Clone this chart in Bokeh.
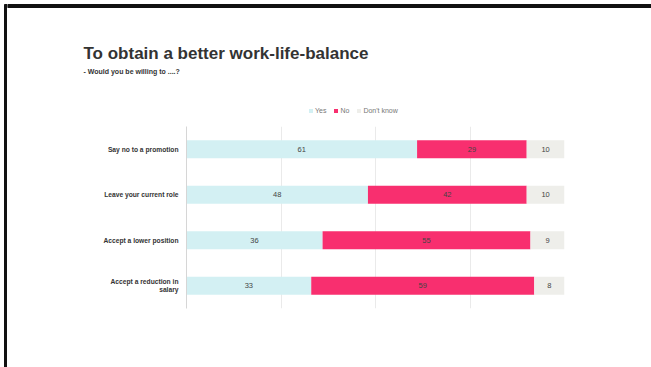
from bokeh.plotting import figure
from bokeh.layouts import row, column
from bokeh.models import (FactorRange, Range1d, ColumnDataSource, Label, Legend,
                          LegendItem, FixedTicker)
from bokeh.core.properties import value
from bokeh.embed import file_html
from bokeh.resources import INLINE

# ---- data ----
categories = ["Say no to a promotion", "Leave your current role",
              "Accept a lower position", "Accept a reduction in\nsalary"]
yes = [61, 48, 36, 33]
no = [29, 42, 55, 59]
dont_know = [10, 10, 9, 8]
series_names = ["Yes", "No", "Don't know"]
title_text = "To obtain a better work-life-balance"
subtitle_text = "- Would you be willing to ....?"
grid_ticks = [0, 25, 50, 75, 100]

colors = ["#D3F0F3", "#F82F6F", "#EEEEEA"]
FONT = "Liberation Sans"
W, H = 651, 367
STRIP = 7          # left slide-frame strip
TOP_H = 126        # header area (title, subtitle, legend)
FW = W - STRIP


def bare(fig):
    fig.xaxis.visible = False
    fig.yaxis.visible = False
    fig.xgrid.visible = False
    fig.ygrid.visible = False
    fig.outline_line_color = None
    fig.frame_align = False
    return fig


# ---- left slide-frame line ----
strip = bare(figure(width=STRIP, height=H, output_backend="svg", toolbar_location=None,
                    x_range=Range1d(0, STRIP), y_range=Range1d(0, H),
                    min_border=0))
strip.quad(left=[4], right=[7], bottom=[0], top=[H - 4], color="#111111")

# ---- header: title, subtitle, legend ----
head = bare(figure(width=FW, height=TOP_H, output_backend="svg", toolbar_location=None,
                   x_range=Range1d(0, FW), y_range=Range1d(0, TOP_H),
                   min_border=0))
head.quad(left=[0], right=[FW], bottom=[TOP_H - 7], top=[TOP_H - 4], color="#111111")
head.add_layout(Label(x=83 - STRIP, y=TOP_H - 53, text=title_text, text_font=FONT,
                      text_font_style="bold", text_font_size="17px",
                      text_color="#333333", text_baseline="alphabetic"))
head.add_layout(Label(x=83 - STRIP, y=TOP_H - 71, text=subtitle_text, text_font=FONT,
                      text_font_style="bold", text_font_size="7px",
                      text_color="#333333", text_baseline="alphabetic"))
# legend swatches: proxy renderers placed outside the visible range
dummies = [head.hbar(y=[-50], left=[0], right=[1], height=1, color=c, line_color=None)
           for c in colors]
legend = Legend(items=[LegendItem(label=n, renderers=[r]) for n, r in zip(series_names, dummies)],
                orientation="horizontal", location=(308 - STRIP, 12),
                glyph_width=5, glyph_height=5, label_height=8, label_width=0,
                label_standoff=2, spacing=7, padding=0, margin=0,
                label_text_font=FONT, label_text_font_size="7px",
                label_text_color="#777777", border_line_color=None,
                background_fill_alpha=0)
head.add_layout(legend)

# ---- chart ----
src = ColumnDataSource(dict(cat=categories, Yes=yes, No=no, DK=dont_know))
p = figure(width=FW, height=H - TOP_H, output_backend="svg", toolbar_location=None,
           y_range=FactorRange(factors=list(reversed(categories))),
           x_range=Range1d(0, 100),
           min_border_left=186 - STRIP, min_border_right=87,
           min_border_top=0, min_border_bottom=59)
p.outline_line_color = None
p.frame_align = False

p.hbar_stack(["Yes", "No", "DK"], y="cat", height=0.4, color=colors,
             line_color=None, source=src)

left_no = list(yes)
left_dk = [a + b for a, b in zip(yes, no)]
lab = dict(
    x=[v / 2 for v in yes] + [l + v / 2 for l, v in zip(left_no, no)] +
      [l + v / 2 for l, v in zip(left_dk, dont_know)],
    y=categories * 3,
    t=[str(v) for v in yes + no + dont_know],
)
p.text(x="x", y="y", text="t", source=ColumnDataSource(lab),
       text_align="center", text_baseline="middle",
       text_font=value(FONT), text_font_size="7.5px", text_color="#444444")

p.xaxis.visible = False
p.xgrid.ticker = FixedTicker(ticks=grid_ticks)
p.xgrid.grid_line_color = "#EAEAEA"
p.ygrid.grid_line_color = None
ax = p.yaxis[0]
ax.axis_line_color = "#D6D6D6"
ax.major_tick_line_color = None
ax.minor_tick_line_color = None
ax.major_label_standoff = 2
ax.major_label_text_font = FONT
ax.major_label_text_font_style = "bold"
ax.major_label_text_font_size = "6.7px"
ax.major_label_text_color = "#333333"

layout = row(strip, column(head, p, spacing=0), spacing=0)
open("out.html", "w").write(file_html(layout, INLINE))
